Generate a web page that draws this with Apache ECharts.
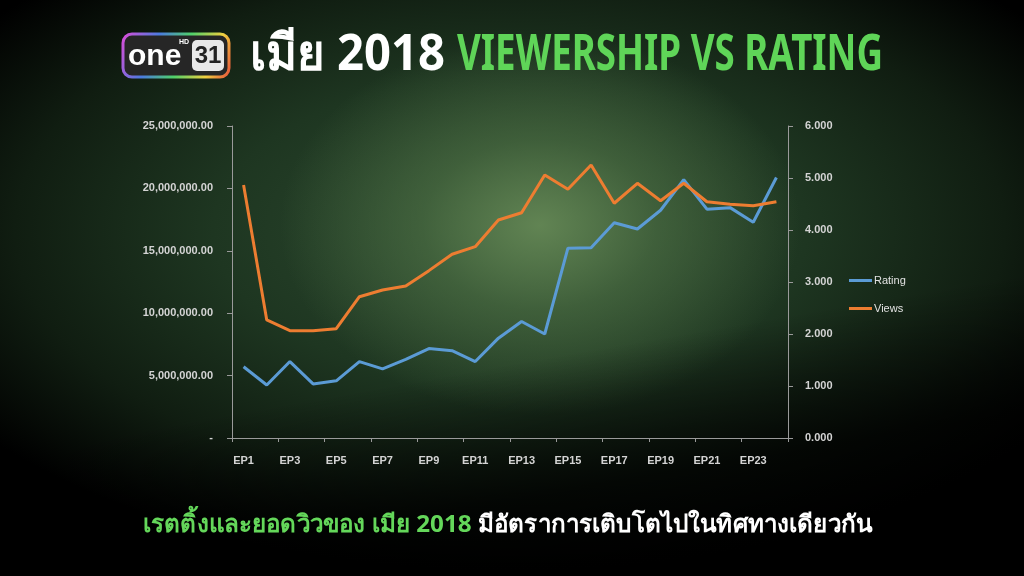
<!DOCTYPE html>
<html>
<head>
<meta charset="utf-8">
<script src="https://cdn.jsdelivr.net/npm/echarts@6/dist/echarts.min.js"></script>
<style>
html,body{margin:0;padding:0;width:1024px;height:576px;overflow:hidden;background:#000;}
#bg{position:absolute;left:0;top:0;width:1024px;height:576px;
background:
 radial-gradient(ellipse 260px 190px at 540px 225px, rgba(100,135,85,0.95) 0%, rgba(80,115,70,0.6) 45%, rgba(60,95,55,0) 100%),
 radial-gradient(ellipse 660px 340px at 510px 230px, #2e4c31 0%, #1e3621 45%, #101d11 75%, #000 100%);}
#bot{position:absolute;left:0;top:0;width:1024px;height:576px;
background: linear-gradient(170deg, rgba(0,0,0,0) 60%, rgba(0,0,0,0.75) 78%, rgba(0,0,0,0.95) 100%);}
#chart{position:absolute;left:0;top:0;width:1024px;height:576px;}
</style>
</head>
<body>
<div id="bg"></div>
<div id="bot"></div>
<div id="chart"></div>
<script>
const episodes = ['EP1','EP2','EP3','EP4','EP5','EP6','EP7','EP8','EP9','EP10','EP11','EP12','EP13','EP14','EP15','EP16','EP17','EP18','EP19','EP20','EP21','EP22','EP23','EP24'];
const rating = [1.37,1.02,1.47,1.04,1.10,1.47,1.33,1.51,1.72,1.68,1.47,1.92,2.24,2.00,3.65,3.66,4.14,4.02,4.38,4.97,4.40,4.43,4.15,5.01];
const views = [20270000,9460000,8600000,8600000,8760000,11320000,11860000,12180000,13410000,14720000,15330000,17470000,18050000,21070000,19930000,21880000,18810000,20410000,19010000,20410000,18930000,18730000,18610000,18930000];
const leftTicks = {min:0,max:25000000,interval:5000000};
const rightTicks = {min:0,max:6,interval:1};
const titleThai = 'เมีย 2018';
const titleEn = 'VIEWERSHIP VS RATING';
const captionGreen = 'เรตติ้งและยอดวิวของ เมีย 2018';
const captionWhite = ' มีอัตราการเติบโตไปในทิศทางเดียวกัน';

const cv = document.createElement('canvas').getContext('2d');
function measure(text, font){ cv.font = font; return cv.measureText(text).width; }
const titleFont = 'bold 50px "Noto Sans", "DejaVu Sans", sans-serif';
const thaiScale = 195 / measure(titleThai, titleFont);
const enScale = 426 / measure(titleEn, titleFont);
const capFont = 'bold 24px "Noto Sans", "Liberation Sans", sans-serif';
const capScale = 729 / measure(captionGreen + captionWhite, capFont);

const chart = echarts.init(document.getElementById('chart'), null, {renderer:'canvas'});
const labelStyle = {color:'#d4d4d4', fontSize:11, fontWeight:'bold', fontFamily:'Liberation Sans, Arial, sans-serif'};
const axisLineStyle = {color:'#9a9a9a', width:1};
function fmtLeft(v){ if(v===0) return '-'; return v.toLocaleString('en-US',{minimumFractionDigits:2,maximumFractionDigits:2}); }

chart.setOption({
  backgroundColor:'transparent',
  animation:false,
  grid:{left:232, right:236, top:126, bottom:138},
  legend:{
    orient:'vertical', left:844, top:270, itemWidth:23, itemHeight:3, itemGap:17,
    icon:'rect',
    textStyle:{color:'#e2e2e2', fontSize:11, fontFamily:'Liberation Sans, Arial, sans-serif', padding:[0,0,0,-3]},
    data:['Rating','Views']
  },
  xAxis:{
    type:'category', data:episodes, boundaryGap:true,
    axisLine:{lineStyle:axisLineStyle},
    axisTick:{show:true, length:4, inside:false, lineStyle:axisLineStyle},
    axisLabel:Object.assign({interval:1, margin:17}, labelStyle)
  },
  yAxis:[
    {type:'value', position:'left', min:leftTicks.min, max:leftTicks.max, interval:leftTicks.interval,
     axisLine:{show:true, lineStyle:axisLineStyle}, axisTick:{show:true, length:5, lineStyle:axisLineStyle},
     splitLine:{show:false},
     axisLabel:Object.assign({formatter:fmtLeft, margin:19}, labelStyle)},
    {type:'value', position:'right', min:rightTicks.min, max:rightTicks.max, interval:rightTicks.interval,
     axisLine:{show:true, lineStyle:axisLineStyle}, axisTick:{show:true, length:5, lineStyle:axisLineStyle},
     splitLine:{show:false},
     axisLabel:Object.assign({formatter:v=>v.toFixed(3), margin:17}, labelStyle)}
  ],
  series:[
    {name:'Rating', type:'line', yAxisIndex:1, data:rating, showSymbol:false, symbol:'none',
     lineStyle:{color:'#5b9bd5', width:3}, itemStyle:{color:'#5b9bd5'}},
    {name:'Views', type:'line', yAxisIndex:0, data:views, showSymbol:false, symbol:'none',
     lineStyle:{color:'#ed7d31', width:3}, itemStyle:{color:'#ed7d31'}}
  ],
  graphic:[
    // logo
    {type:'rect', shape:{x:123,y:34,width:106,height:43,r:9},
     style:{fill:'#262626', lineWidth:3,
       stroke:new echarts.graphic.LinearGradient(0,0,1,1,[
         {offset:0,color:'#e04bd8'},{offset:0.3,color:'#4b7be0'},{offset:0.55,color:'#4fd06a'},
         {offset:0.8,color:'#f0d040'},{offset:1,color:'#e84b3a'}])}},
    {type:'text', x:128, y:57, style:{text:'one', fill:'#ffffff', font:'bold 30px "Liberation Sans", Arial, sans-serif', verticalAlign:'middle'}},
    {type:'text', x:179, y:42, style:{text:'HD', fill:'#ffffff', font:'bold 7px "Liberation Sans", Arial, sans-serif', verticalAlign:'middle'}},
    {type:'rect', shape:{x:192,y:40,width:32,height:31,r:5}, style:{fill:'#e8e8e8'}},
    {type:'text', x:208, y:56, style:{text:'31', fill:'#222', font:'bold 24px "Liberation Sans", Arial, sans-serif', align:'center', verticalAlign:'middle'}},
    // title
    {type:'text', x:250, y:56, scaleX:thaiScale,
     style:{text:titleThai, fill:'#ffffff', font:titleFont, verticalAlign:'middle'}},
    {type:'text', x:457, y:56, scaleX:enScale,
     style:{text:titleEn, fill:'#5fd558', font:titleFont, verticalAlign:'middle'}},
    // caption
    {type:'text', x:143, y:525, scaleX:capScale,
     style:{rich:{g:{fill:'#64d75a', font:capFont}, w:{fill:'#ffffff', font:capFont}},
       text:'{g|'+captionGreen+'}{w|'+captionWhite+'}', verticalAlign:'middle'}}
  ]
});
</script>
</body>
</html>
